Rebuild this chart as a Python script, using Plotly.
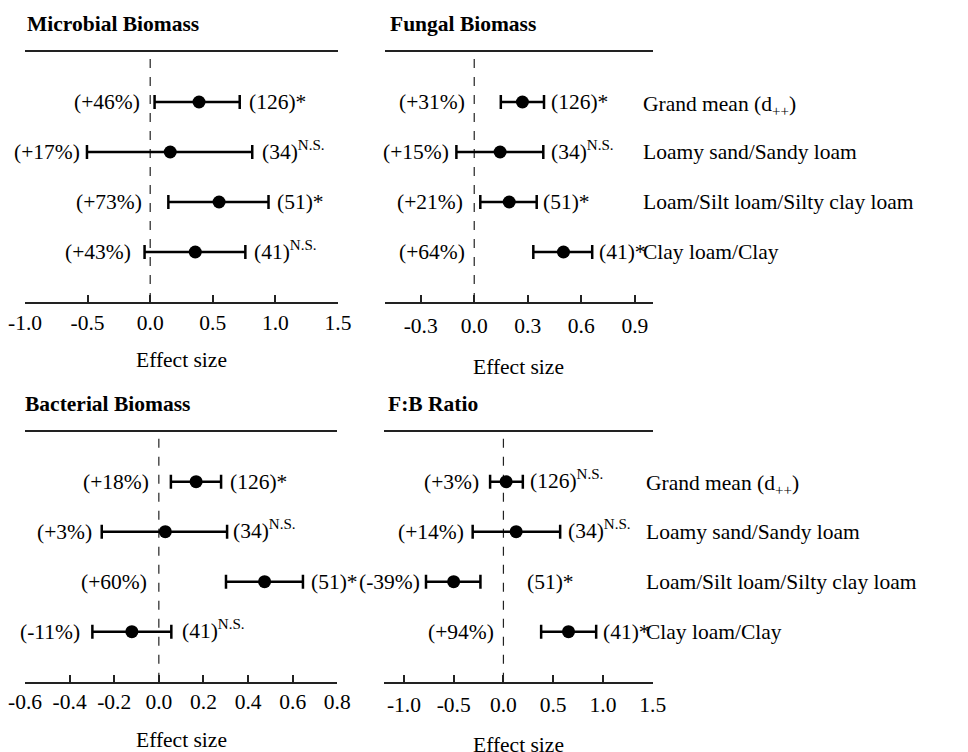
import plotly.graph_objects as go

# ---------------- data ----------------
categories = ["Grand mean (d<sub>++</sub>)", "Loamy sand/Sandy loam",
              "Loam/Silt loam/Silty clay loam", "Clay loam/Clay"]
rows = [1, 2, 3, 4]

panel_titles = ["Microbial Biomass", "Fungal Biomass", "Bacterial Biomass", "F:B Ratio"]

microbial_mean = [0.39, 0.16, 0.55, 0.36]
microbial_lo = [0.035, -0.505, 0.145, -0.045]
microbial_hi = [0.715, 0.815, 0.945, 0.76]
microbial_pct = ["(+46%)", "(+17%)", "(+73%)", "(+43%)"]
microbial_n = ["(126)*", "(34)<sup>N.S.</sup>", "(51)*", "(41)<sup>N.S.</sup>"]

fungal_mean = [0.27, 0.145, 0.196, 0.50]
fungal_lo = [0.149, -0.10, 0.034, 0.331]
fungal_hi = [0.391, 0.387, 0.35, 0.661]
fungal_pct = ["(+31%)", "(+15%)", "(+21%)", "(+64%)"]
fungal_n = ["(126)*", "(34)<sup>N.S.</sup>", "(51)*", "(41)*"]

bacterial_mean = [0.167, 0.029, 0.474, -0.121]
bacterial_lo = [0.054, -0.256, 0.301, -0.298]
bacterial_hi = [0.279, 0.306, 0.646, 0.056]
bacterial_pct = ["(+18%)", "(+3%)", "(+60%)", "(-11%)"]
bacterial_n = ["(126)*", "(34)<sup>N.S.</sup>", "(51)*", "(41)<sup>N.S.</sup>"]

fb_mean = [0.027, 0.128, -0.50, 0.654]
fb_lo = [-0.134, -0.309, -0.778, 0.379]
fb_hi = [0.195, 0.570, -0.231, 0.932]
fb_pct = ["(+3%)", "(+14%)", "(-39%)", "(+94%)"]
fb_n = ["(126)<sup>N.S.</sup>", "(34)<sup>N.S.</sup>", "(51)*", "(41)*"]

tick_vals = [
    [-1.0, -0.5, 0.0, 0.5, 1.0, 1.5],
    [-0.3, 0.0, 0.3, 0.6, 0.9],
    [-0.6, -0.4, -0.2, 0.0, 0.2, 0.4, 0.6, 0.8],
    [-1.0, -0.5, 0.0, 0.5, 1.0, 1.5],
]
tick_text = [
    ["-1.0", "-0.5", "0.0", "0.5", "1.0", "1.5"],
    ["-0.3", "0.0", "0.3", "0.6", "0.9"],
    ["-0.6", "-0.4", "-0.2", "0.0", "0.2", "0.4", "0.6", "0.8"],
    ["-1.0", "-0.5", "0.0", "0.5", "1.0", "1.5"],
]
x_ranges = [[-1.0, 1.5], [-0.5, 1.0], [-0.6, 0.8], [-1.2, 1.5]]

# ---------------- layout helpers (positions) ----------------
pct_label_x = [
    [-0.08, -0.56, -0.064, -0.152],
    [-0.054, -0.143, -0.063, -0.054],
    [-0.043, -0.30, -0.053, -0.353],
    [-0.248, -0.392, -0.835, -0.098],
]
n_label_x = [
    [0.80, 0.90, 1.024, 0.84],
    [0.437, 0.434, 0.393, 0.704],
    [0.325, 0.336, 0.688, 0.108],
    [0.279, 0.654, 0.244, 1.009],
]

W, H = 968, 752
# pixel boxes (left, right, top, bottom)
boxes = [(25, 338, 52, 302), (385, 652.7, 52, 302),
         (25, 337.3, 431.7, 681.7), (384, 652.7, 431.7, 681.7)]
title_pos = [(26, 24), (389, 24), (24, 404), (387, 404)]
xlabel_y = [360, 367, 740, 745]
tick_standoff = [0, 3, 0, 3]
cat_label_x = [None, 642, None, 645]

FONT = "Liberation Serif, Times New Roman, serif"
FS = 21.5
LINE = "#222222"

panels = [
    (microbial_mean, microbial_lo, microbial_hi, microbial_pct, microbial_n),
    (fungal_mean, fungal_lo, fungal_hi, fungal_pct, fungal_n),
    (bacterial_mean, bacterial_lo, bacterial_hi, bacterial_pct, bacterial_n),
    (fb_mean, fb_lo, fb_hi, fb_pct, fb_n),
]

fig = go.Figure()
annotations = []
shapes = []


def px_x(p):
    return p / W


def px_y(p):
    return 1 - p / H


txt_font = dict(family=FONT, size=FS, color="black")

for i, (mean, lo, hi, pct, n) in enumerate(panels):
    k = "" if i == 0 else str(i + 1)
    xa, ya = "x" + k, "y" + k
    l, r, t, b = boxes[i]
    fig.add_trace(go.Scatter(
        x=mean, y=rows, mode="markers", xaxis=xa, yaxis=ya,
        marker=dict(color="black", size=13),
        error_x=dict(type="data", symmetric=False,
                     array=[h - m for h, m in zip(hi, mean)],
                     arrayminus=[m - lo_ for m, lo_ in zip(mean, lo)],
                     color="black", thickness=2.5, width=7),
        showlegend=False, hoverinfo="skip",
    ))
    fig.layout["xaxis" + k] = dict(
        domain=[px_x(l), px_x(r)], range=x_ranges[i], anchor=ya,
        showline=True, mirror=True, linecolor=LINE, linewidth=1.5,
        ticks="inside", ticklen=7, tickwidth=1.5, tickcolor=LINE,
        tickvals=tick_vals[i], ticktext=tick_text[i],
        showgrid=False, zeroline=False, ticklabelstandoff=tick_standoff[i],
        automargin=False, tickfont=txt_font,
    )
    fig.layout["yaxis" + k] = dict(
        domain=[px_y(b), px_y(t)], range=[5, 0], anchor=xa,
        visible=False, showgrid=False, zeroline=False, automargin=False,
    )
    # zero reference line
    shapes.append(dict(type="line", xref=xa, yref=ya + " domain", x0=0, x1=0, y0=0, y1=1,
                       line=dict(color=LINE, width=1.2, dash="dash"), layer="below"))
    # title
    tx, ty = title_pos[i]
    annotations.append(dict(text="<b>" + panel_titles[i] + "</b>", xref="paper", yref="paper",
                            x=px_x(tx), y=px_y(ty), xanchor="left", yanchor="middle",
                            showarrow=False, font=txt_font, borderpad=0))
    # x label
    annotations.append(dict(text="Effect size", xref="paper", yref="paper",
                            x=px_x((l + r) / 2), y=px_y(xlabel_y[i]), xanchor="center",
                            yanchor="middle", showarrow=False, font=txt_font))
    for j in range(4):
        annotations.append(dict(text=pct[j], xref=xa, yref=ya, x=pct_label_x[i][j], y=rows[j],
                                xanchor="right", yanchor="middle", showarrow=False,
                                borderpad=0, xshift=1, font=txt_font))
        yshift = 2 if "<sup>" in n[j] else 0
        annotations.append(dict(text=n[j], xref=xa, yref=ya, x=n_label_x[i][j], y=rows[j],
                                xanchor="left", yanchor="middle", showarrow=False, yshift=yshift,
                                borderpad=0, xshift=-2, font=txt_font))
        if cat_label_x[i] is not None:
            cshift = -3 if "<sub>" in categories[j] else 0
            annotations.append(dict(text=categories[j], xref="paper", yref=ya,
                                    x=px_x(cat_label_x[i]), y=rows[j], xanchor="left",
                                    yanchor="middle", showarrow=False, yshift=cshift,
                                    borderpad=0, xshift=0, font=txt_font))

fig.update_layout(
    width=W, height=H, margin=dict(l=0, r=0, t=0, b=0, autoexpand=False),
    paper_bgcolor="white", plot_bgcolor="white",
    annotations=annotations, shapes=shapes,
    font=txt_font,
)

fig.write_html("out.html", config={"displayModeBar": False},
               post_script="document.body.style.margin='0';")
